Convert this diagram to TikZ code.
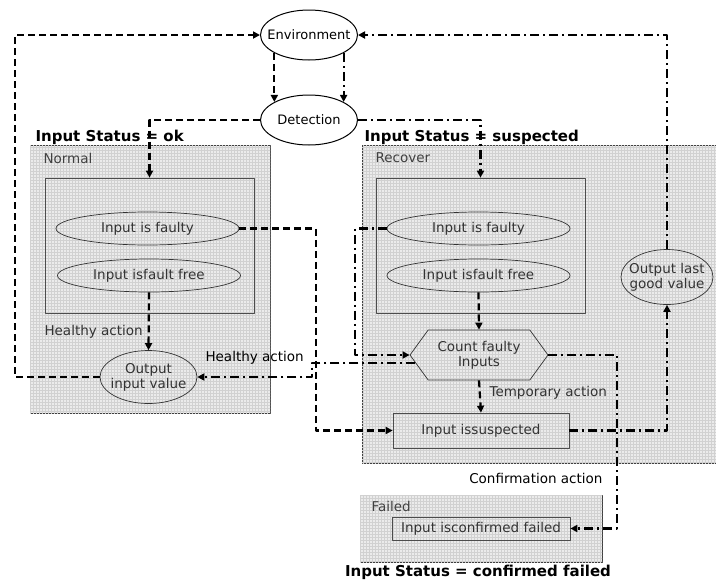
\documentclass[tikz,border=0pt]{standalone}
\usepackage{fontspec}
\setmainfont{DejaVu Sans}
\usetikzlibrary{shapes.geometric,shapes.symbols,arrows.meta,patterns}

\begin{document}
\begin{tikzpicture}[x=1pt, y=-1pt, font=\fontsize{13.5}{15}\selectfont, line join=round, >={Triangle[length=7pt,width=7pt]},
  panel/.style={draw=black!75, line width=0.8pt, fill=black!8, postaction={pattern=grid, pattern color=black!18}},
  frame/.style={draw=black!70, line width=0.7pt},
  state/.style={ellipse, draw=black!80, line width=0.7pt, text=black!80, minimum width=183, minimum height=33, inner sep=0},
  outer/.style={ellipse, draw, line width=1pt, fill=white, minimum width=97, minimum height=50, inner sep=0, font=\fontsize{13}{15}\selectfont},
  dsh/.style={line width=2.2pt, dash pattern=on 7pt off 4pt},
  dshdot/.style={line width=2.2pt, dash pattern=on 9pt off 4pt on 2pt off 4pt},
  status/.style={font=\fontsize{15}{17}\selectfont\bfseries}]
\useasboundingbox[fill=white] (0,0) rectangle (716,582);
% panels
\draw[panel] (30,145) rectangle (270,413);
\draw[panel] (362,145) rectangle (722,463);
\draw[panel] (360,495) rectangle (602,562);
\node[frame, minimum width=209, minimum height=135] (nbox) at (149.5,245.5) {};
\node[frame, minimum width=209, minimum height=135] (rbox) at (480.5,245.5) {};
% nodes
\node[outer] (env) at (309,35) {\makebox[0pt]{Environment}};
\node[outer] (det) at (309,120) {\makebox[0pt]{Detection}};
\node[state] (nfaulty) at (147.5,228.5) {Input is faulty};
\node[state] (nfree) at (149,275.5) {Input isfault free};
\node[state, align=center, minimum width=97, minimum height=53] (out) at (148.5,377)
  {\makebox[0pt]{Output}\\\makebox[0pt]{input value}};
\node[state] (rfaulty) at (478.5,228.5) {Input is faulty};
\node[state] (rfree) at (478.5,275.5) {Input isfault free};
\node[signal, signal to=west and east, signal pointer angle=108, draw=black!80, line width=0.7pt, text=black!80,
  align=center, minimum width=138, minimum height=50, inner sep=0] (cnt) at (479,355) {Count faulty\\Inputs};
\node[state, align=center, minimum width=92, minimum height=55] (ogood) at (667,277)
  {\makebox[0pt]{Output last}\\\makebox[0pt]{good value}};
\node[frame, text=black!80, minimum width=176, minimum height=35] (susp) at (481,430.5) {Input issuspected};
\node[frame, text=black!80, minimum width=178, minimum height=23, inner sep=0] (conf) at (481,528.5) {Input isconfirmed failed};
% labels
\node[anchor=west, text=black!75] (lnormal) at (40,158) {Normal};
\node[anchor=west, text=black!75] (lrecover) at (372,158) {Recover};
\node[anchor=west, text=black!75] (lfailed) at (368,506) {Failed};
\node[anchor=west, text=black!80] (hact1) at (41,332) {Healthy action};
\node[anchor=west] (hact2) at (202,358) {Healthy action};
\node[anchor=west, text=black!80] (tact) at (486,393) {Temporary action};
\node[anchor=east] (cact) at (606,478) {Confirmation action};
\node[status, anchor=west] (sok) at (32,137) {Input Status = ok};
\node[status, anchor=west] (ssus) at (361,137) {Input Status = suspected};
\node[status] (sfail) at (478,572) {Input Status = confirmed failed};
% connectors
\path (15,0) coordinate (j0) (316,0) coordinate (j1) (355,0) coordinate (j2)
  (312,0) coordinate (j3) (617,0) coordinate (j4);
\draw[dsh,->] (out.west) -- (j0 |- out.west) -- (j0 |- env.west) -- (env.west);
\draw[dsh,->] (env.south west) -- (det.north west);
\draw[dshdot,->] (env.south east) -- (det.north east);
\draw[dsh,->] (det.west) -| (nbox.north);
\draw[dshdot,->] (det.east) -| (rbox.north);
\draw[dshdot,->] (ogood.north) |- (env.east);
\draw[dsh,->] (nfree.south) -- (out.north);
\draw[dsh,->] (rfree.south) -- (cnt.north);
\draw[dsh,->] (cnt.south) -- (susp.north);
\draw[dsh,->] (nfaulty.east) -| (j1 |- susp.west) -- (susp.west);
\draw[dshdot,->] (rfaulty.west) -| (j2 |- cnt.west) -- (cnt.west);
\draw[dshdot,->] (cnt.187) -| (j3 |- out.east) -- (out.east);
\draw[dshdot,->] (susp.east) -| (ogood.south);
\draw[dshdot,->] (cnt.east) -| (j4 |- conf.east) -- (conf.east);
\end{tikzpicture}
\end{document}
